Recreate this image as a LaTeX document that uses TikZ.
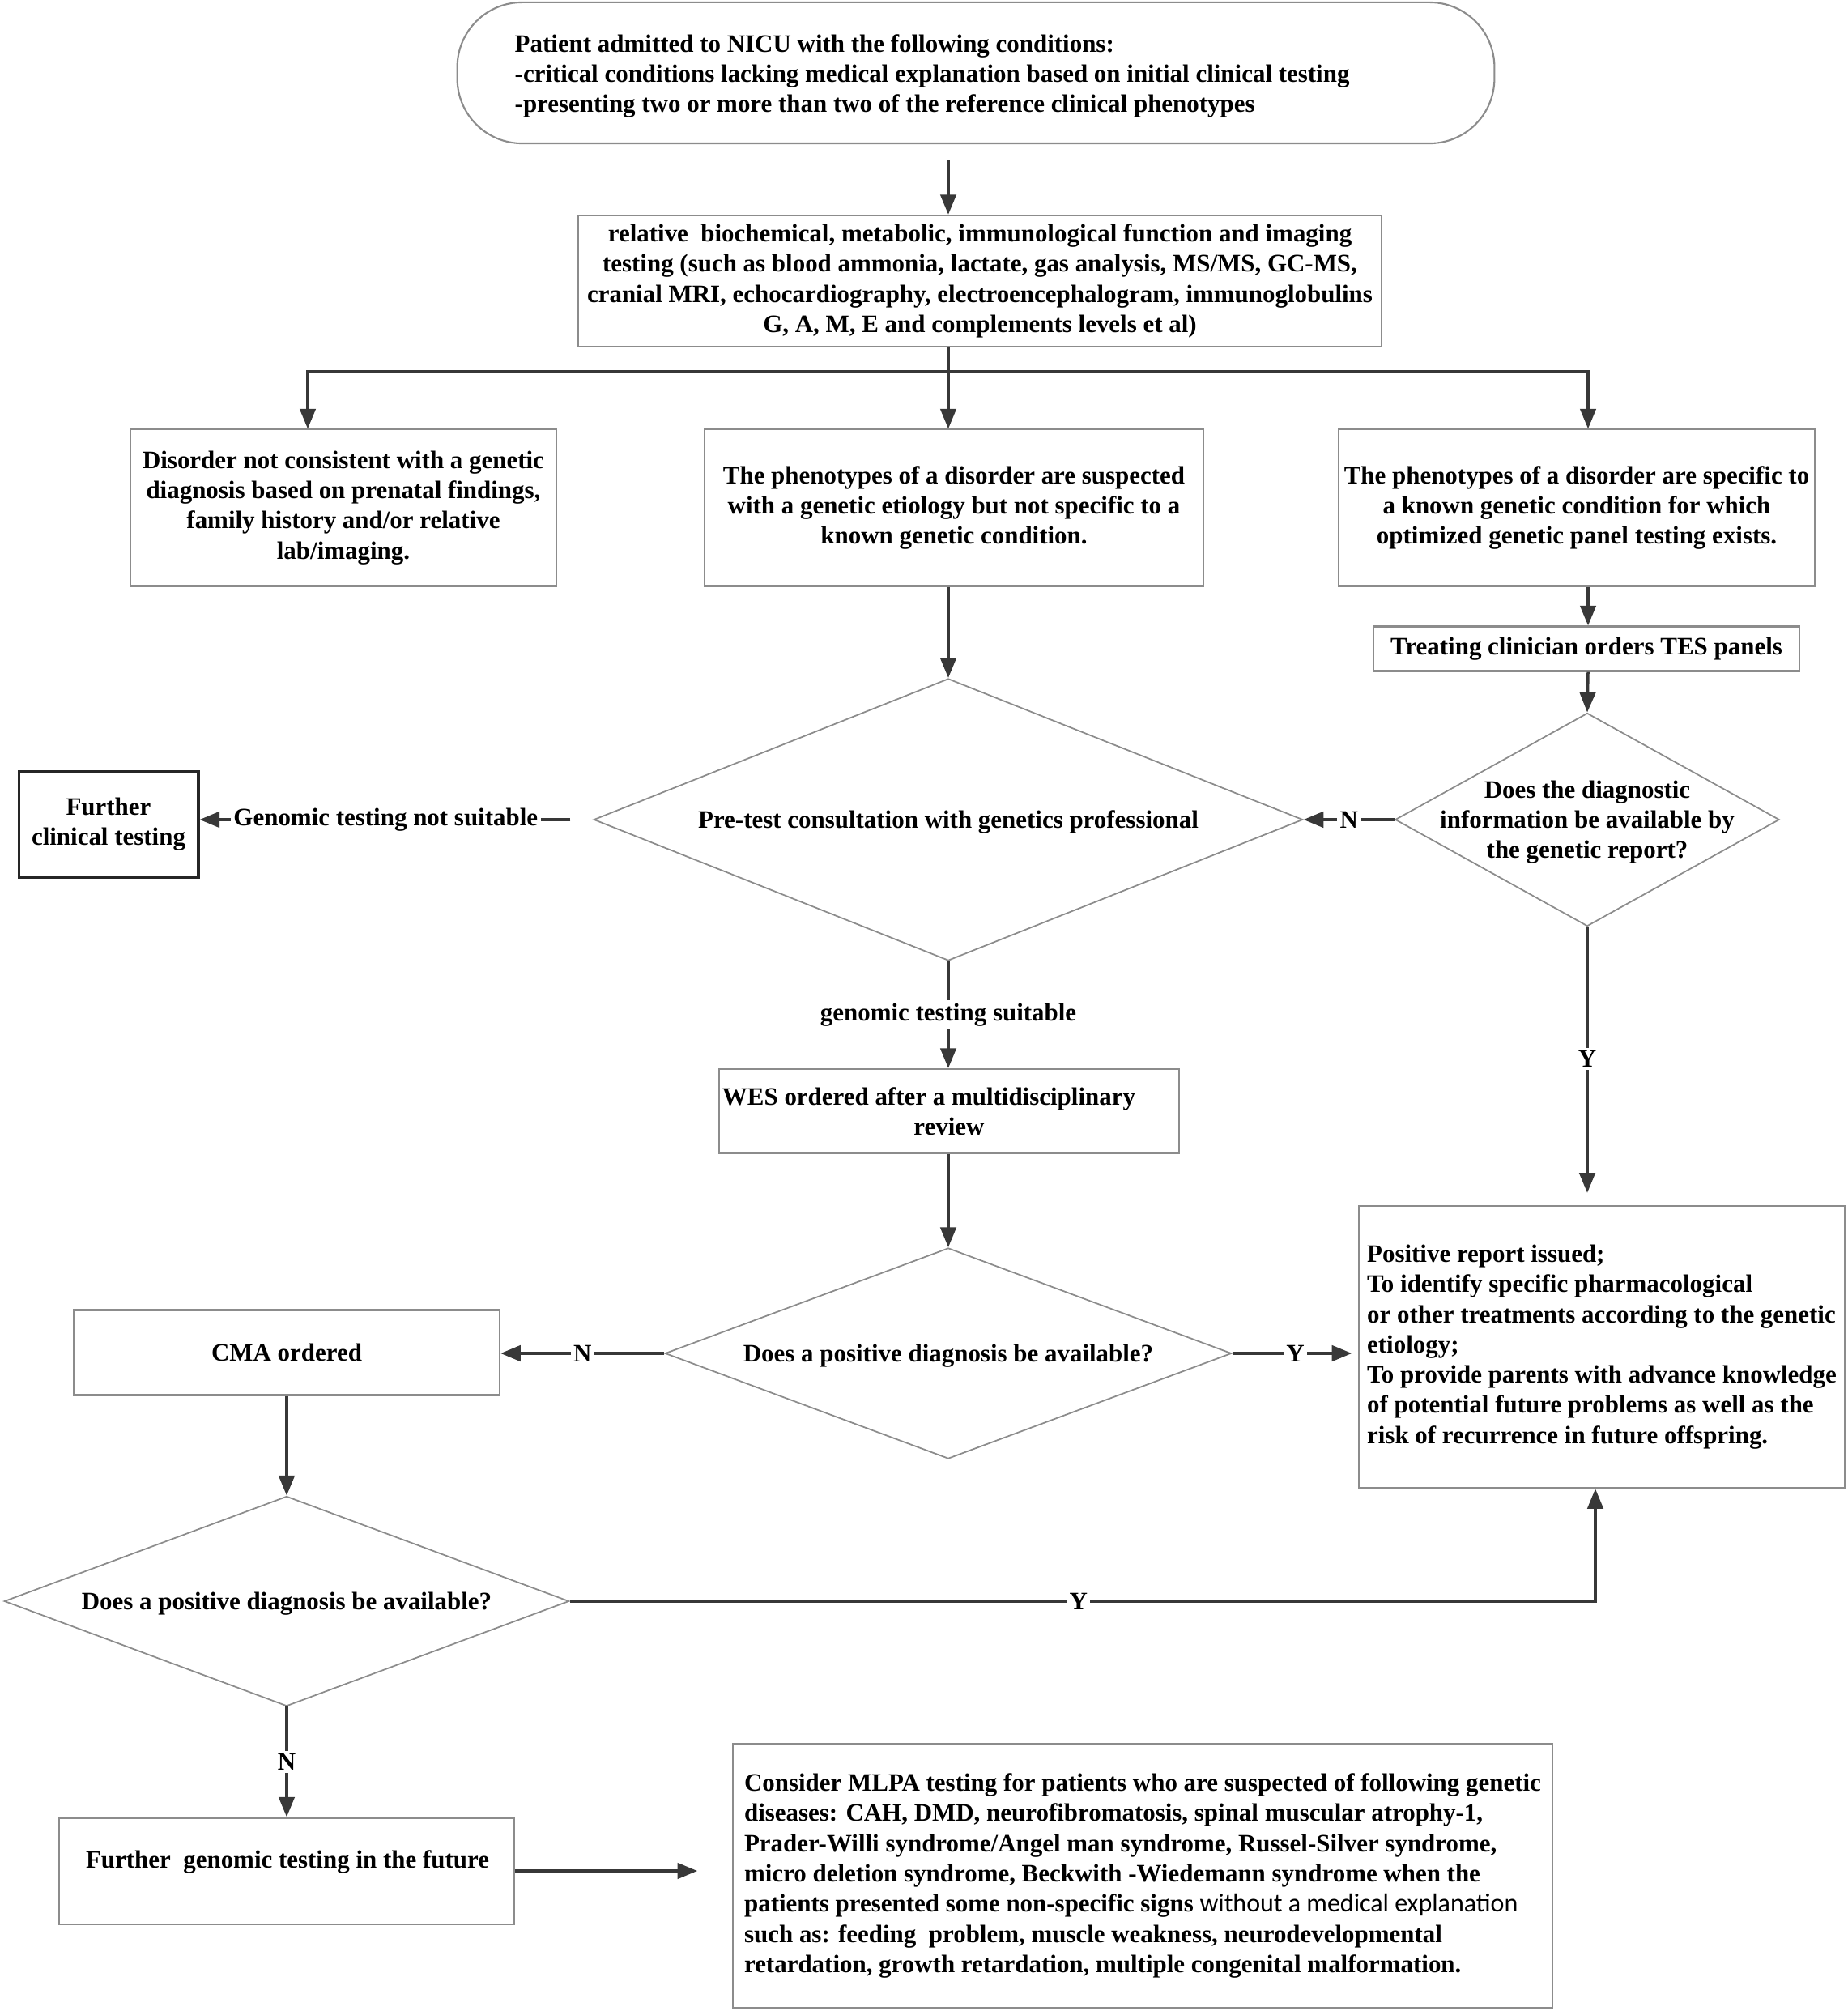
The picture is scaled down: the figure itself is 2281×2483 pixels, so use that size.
\documentclass[tikz,border=0pt]{standalone}
\usepackage{fontspec}
\setmainfont{Liberation Serif}
\newfontfamily\calibfont{Carlito}
\usetikzlibrary{arrows.meta,shapes.geometric}
\begin{document}
\begin{tikzpicture}[x=0.01cm,y=-0.01cm,
  font=\fontsize{8.8}{10.6}\selectfont\bfseries,
  box/.style={draw=black!45, line width=0.6pt, rectangle, inner sep=0pt, align=center},
  dia/.style={draw=black!45, line width=0.5pt, diamond, inner sep=0pt},
  arr/.style={draw=black!78, line width=1pt, -{Triangle[length=7pt,width=5.5pt]}},
  ln/.style={draw=black!78, line width=1pt},
  lab/.style={fill=white, inner sep=1pt},
  txt/.style={inner sep=0pt}]
\fill[white] (0,0) rectangle (2281,2483);
\useasboundingbox (0,0) rectangle (2281,2483);

% nodes
\node[box, rounded corners=0.8cm, minimum width=12.8cm, minimum height=1.74cm] (top) at (1205,90) {};
\node[txt, anchor=west, align=left] (toptext) at (635,94) {Patient admitted to NICU with the following conditions:\\-critical conditions lacking medical explanation based on initial clinical testing\\-presenting two or more than two of the reference clinical phenotypes};

\node[box, minimum width=9.92cm, minimum height=1.62cm] (b2) at (1210,347) {relative\ \ biochemical, metabolic, immunological function and imaging\\testing (such as blood ammonia, lactate, gas analysis, MS/MS, GC-MS,\\cranial MRI, echocardiography, electroencephalogram, immunoglobulins\\G, A, M, E and complements levels et al)};

\node[box, minimum width=5.25cm, minimum height=1.93cm] (L1) at (424,627) {Disorder not consistent with a genetic\\diagnosis based on prenatal findings,\\family history and/or relative\\lab/imaging.};
\node[box, minimum width=6.15cm, minimum height=1.93cm] (M1) at (1178,627) {The phenotypes of a disorder are suspected\\with a genetic etiology but not specific to a\\known genetic condition.};
\node[box, minimum width=5.87cm, minimum height=1.93cm] (R1) at (1947,627) {The phenotypes of a disorder are specific to\\a known genetic condition for which\\optimized genetic panel testing exists.};
\node[box, minimum width=5.26cm, minimum height=0.55cm] (tes) at (1959,801) {Treating clinician orders TES panels};

\node[dia, minimum width=8.75cm, minimum height=3.48cm, label={[align=center, yshift=-0.03cm]center:{Pre-test consultation with genetics professional}}] (d1) at (1171,1012) {};
\node[dia, minimum width=4.74cm, minimum height=2.63cm, label={[align=center, yshift=-0.03cm]center:{Does the diagnostic\\information be available by\\the genetic report?}}] (d2) at (1960,1012) {};
\node[box, draw=black!85, line width=1.1pt, minimum width=2.21cm, minimum height=1.31cm] (fct) at (134,1018) {Further\\clinical testing};

\node[box, minimum width=5.67cm, minimum height=1.04cm] (wes) at (1172,1372) {WES ordered after a multidisciplinary\hspace*{0.5cm}\\review};
\node[dia, minimum width=6.99cm, minimum height=2.6cm, label={[align=center, yshift=-0.03cm]center:{Does a positive diagnosis be available?}}] (d3) at (1171,1671) {};
\node[box, minimum width=5.26cm, minimum height=1.05cm] (cma) at (354,1670) {CMA ordered};
\node[box, minimum width=5.99cm, minimum height=3.48cm, align=left] (pos) at (1978,1663) {Positive report issued;\\To identify specific pharmacological\\or other treatments according to the genetic\\etiology;\\To provide parents with advance knowledge\\of potential future problems as well as the\\risk of recurrence in future offspring.};

\node[dia, minimum width=6.97cm, minimum height=2.59cm, label={[align=center, yshift=-0.03cm]center:{Does a positive diagnosis be available?}}] (d4) at (354,1977) {};
\node[box, minimum width=5.61cm, minimum height=1.31cm] (fgt) at (354,2310) {};
\node[txt] (fgttext) at (355,2299) {Further\ \ genomic testing in the future};
\node[box, minimum width=10.11cm, minimum height=3.25cm, align=left] (mlpa) at (1411,2316) {Consider MLPA testing for patients who are suspected of following genetic\\diseases: CAH, DMD, neurofibromatosis, spinal muscular atrophy-1,\\Prader-Willi syndrome/Angel man syndrome, Russel-Silver syndrome,\\micro deletion syndrome, Beckwith -Wiedemann syndrome when the\\patients presented some non-specific signs {\calibfont\mdseries\fontsize{9.1}{10.6}\selectfont without a medical explanation}\\such as: feeding\ \ problem, muscle weakness, neurodevelopmental\\retardation, growth retardation, multiple congenital malformation.};

% coordinates
\coordinate (mx) at (1171,0);
\coordinate (brL) at (380,459);
\coordinate (brM) at (1171,459);
\coordinate (brR) at (1961,459);
\coordinate (yx) at (1970,0);

% connectors
\draw[arr, shorten <=0.19cm] (top.south -| mx) -- (b2.north -| mx);
\draw[ln] (b2.south -| mx) -- (brM);
\draw[ln, line width=1.4pt, line cap=rect] (brL) -- (brR);
\draw[arr] (brL) -- (L1.north -| brL);
\draw[arr] (brM) -- (M1.north -| mx);
\draw[arr] (brR) -- (R1.north -| brR);
\draw[arr] (M1.south -| mx) -- (d1.north);
\draw[arr] (R1.south -| brR) -- (tes.north -| brR);
\draw[arr] (tes.south -| brR) -- (d2.north);
\draw[arr] (d2.west) -- node[lab]{N} (d1.east);
\draw[arr, shorten <=0.28cm] (d1.west) -- node[lab, pos=0.527]{Genomic testing not suitable} (d1.west -| fct.east);
\draw[arr] (d1.south) -- node[lab]{genomic testing suitable} (wes.north -| mx);
\draw[arr] (wes.south -| mx) -- (d3.north);
\draw[arr] (d3.west) -- node[lab]{N} (d3.west -| cma.east);
\draw[arr, shorten >=0.08cm] (d3.east) -- node[lab]{Y} (d3.east -| pos.west);
\draw[arr, shorten >=0.15cm] (d2.south) -- node[lab, pos=0.474]{Y} (d2.south |- pos.north);
\draw[arr] (cma.south) -- (d4.north);
\draw[arr] (d4.east) -- node[lab, pos=0.496]{Y} (d4.east -| yx) -- (yx |- pos.south);
\draw[arr] (d4.south) -- node[lab]{N} (fgt.north);
\draw[arr, shorten >=0.43cm] (fgt.east) -- (fgt.east -| mlpa.west);
\end{tikzpicture}
\end{document}
